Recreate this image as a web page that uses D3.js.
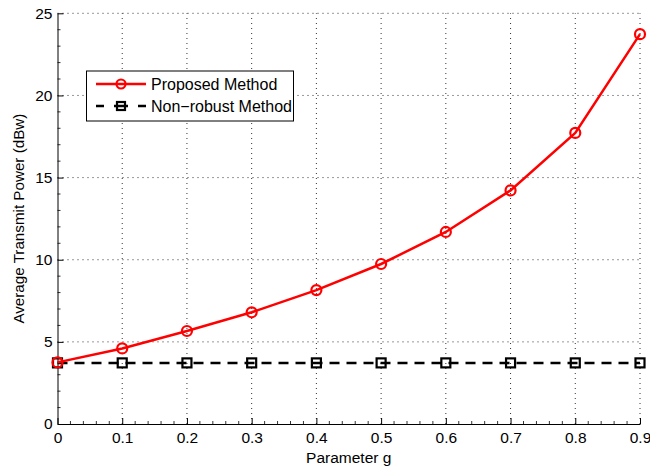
<!DOCTYPE html>
<html><head><meta charset="utf-8">
<script src="https://cdn.jsdelivr.net/npm/d3@7"></script>
<style>body{margin:0;background:#fff}svg{display:block}text{font-family:"Liberation Sans",Arial,sans-serif;fill:#000}</style>
</head><body><svg id="c" width="650" height="470"></svg>
<script>
const xValues = [0, 0.1, 0.2, 0.3, 0.4, 0.5, 0.6, 0.7, 0.8, 0.9];
const proposed = [3.75, 4.6, 5.66, 6.8, 8.15, 9.74, 11.69, 14.22, 17.72, 23.73];
const nonRobust = [3.72, 3.72, 3.72, 3.72, 3.72, 3.72, 3.72, 3.72, 3.72, 3.72];
const xTicks = [0, 0.1, 0.2, 0.3, 0.4, 0.5, 0.6, 0.7, 0.8, 0.9];
const yTicks = [0, 5, 10, 15, 20, 25];
const seriesNames = ["Proposed Method", "Non\u2212robust Method"];
const xTitle = "Parameter g";
const yTitle = "Average Transmit Power (dBw)";

const svg = d3.select("#c");
const L = 57.5, R = 640, T = 13.3, B = 424;
const x = d3.scaleLinear().domain([0, 0.9]).range([L, R]);
const y = d3.scaleLinear().domain([0, 25]).range([B, T]);

// grid
const g = svg.append("g");
g.selectAll("line.gx").data(xTicks.slice(1)).join("line")
  .attr("x1", d => x(d)).attr("x2", d => x(d)).attr("y1", B).attr("y2", T)
  .attr("stroke", "#000").attr("stroke-width", 1).attr("stroke-dasharray", "1,4").attr("opacity", 0.8);
g.selectAll("line.gy").data(yTicks.slice(1)).join("line")
  .attr("y1", d => y(d)).attr("y2", d => y(d)).attr("x1", L).attr("x2", R)
  .attr("stroke", "#000").attr("stroke-width", 1).attr("stroke-dasharray", "1,4").attr("opacity", 0.8);

// minor ticks
const xMinor = d3.range(0, 0.9001, 0.02).filter(v => Math.abs(v*10 - Math.round(v*10)) > 1e-6);
const yMinor = d3.range(0, 25.001, 1).filter(v => v % 5 !== 0);
svg.append("g").selectAll("line").data(xMinor).join("line")
  .attr("x1", d => x(d)).attr("x2", d => x(d)).attr("y1", B).attr("y2", B - 3)
  .attr("stroke", "#000").attr("stroke-width", 0.8);
svg.append("g").selectAll("line").data(yMinor).join("line")
  .attr("y1", d => y(d)).attr("y2", d => y(d)).attr("x1", L).attr("x2", L + 3)
  .attr("stroke", "#000").attr("stroke-width", 0.8);

// axes
const xAxis = d3.axisBottom(x).tickValues(xTicks).tickFormat(d3.format("")).tickSizeInner(-6).tickSizeOuter(0).tickPadding(8);
const yAxis = d3.axisLeft(y).tickValues(yTicks).tickSizeInner(-6).tickSizeOuter(0).tickPadding(5);
const gx = svg.append("g").attr("transform", `translate(0,${B})`).call(xAxis);
const gy = svg.append("g").attr("transform", `translate(${L},0)`).call(yAxis);
[gx, gy].forEach(a => {
  a.attr("font-size", 15.5).attr("font-family", '"Liberation Sans",Arial,sans-serif');
  a.select(".domain").attr("stroke", "#000").attr("stroke-width", 1);
  a.selectAll(".tick line").attr("stroke", "#000");
  a.selectAll("text").attr("fill", "#000");
});

svg.append("text").attr("x", (L + R) / 2).attr("y", 463).attr("text-anchor", "middle").attr("font-size", 15.5).text(xTitle);
svg.append("text").attr("transform", `translate(24,${(T + B) / 2}) rotate(-90)`).attr("text-anchor", "middle").attr("font-size", 15.2).text(yTitle);

// series
const line = d3.line().x((d, i) => x(xValues[i])).y(d => y(d));
svg.append("path").datum(nonRobust).attr("d", line).attr("fill", "none")
  .attr("stroke", "#000").attr("stroke-width", 2.5).attr("stroke-dasharray", "10,7");
svg.append("g").selectAll("rect").data(nonRobust).join("rect")
  .attr("x", (d, i) => x(xValues[i]) - 4.5).attr("y", d => y(d) - 4.5)
  .attr("width", 9).attr("height", 9).attr("fill", "none").attr("stroke", "#000").attr("stroke-width", 2.2);

svg.append("path").datum(proposed).attr("d", line).attr("fill", "none")
  .attr("stroke", "#ff0000").attr("stroke-width", 2.5);
svg.append("g").selectAll("circle").data(proposed).join("circle")
  .attr("cx", (d, i) => x(xValues[i])).attr("cy", d => y(d)).attr("r", 5)
  .attr("fill", "none").attr("stroke", "#ff0000").attr("stroke-width", 2.2);

// legend
const lg = svg.append("g");
lg.append("rect").attr("x", 86.5).attr("y", 71).attr("width", 207).attr("height", 50)
  .attr("fill", "#fff").attr("stroke", "#000").attr("stroke-width", 1);
lg.append("line").attr("x1", 96).attr("x2", 146).attr("y1", 84).attr("y2", 84).attr("stroke", "#ff0000").attr("stroke-width", 2.5);
lg.append("circle").attr("cx", 121).attr("cy", 84).attr("r", 4.5).attr("fill", "none").attr("stroke", "#ff0000").attr("stroke-width", 2.2);
lg.append("line").attr("x1", 96).attr("x2", 146).attr("y1", 106).attr("y2", 106).attr("stroke", "#000").attr("stroke-width", 2.5).attr("stroke-dasharray", "8,10,14,10,8");
lg.append("rect").attr("x", 117).attr("y", 102).attr("width", 8).attr("height", 8).attr("fill", "none").attr("stroke", "#000").attr("stroke-width", 2.2);
lg.append("text").attr("x", 151).attr("y", 89.5).attr("font-size", 16).text(seriesNames[0]);
lg.append("text").attr("x", 151).attr("y", 111.5).attr("font-size", 16).text(seriesNames[1]);
</script></body></html>
